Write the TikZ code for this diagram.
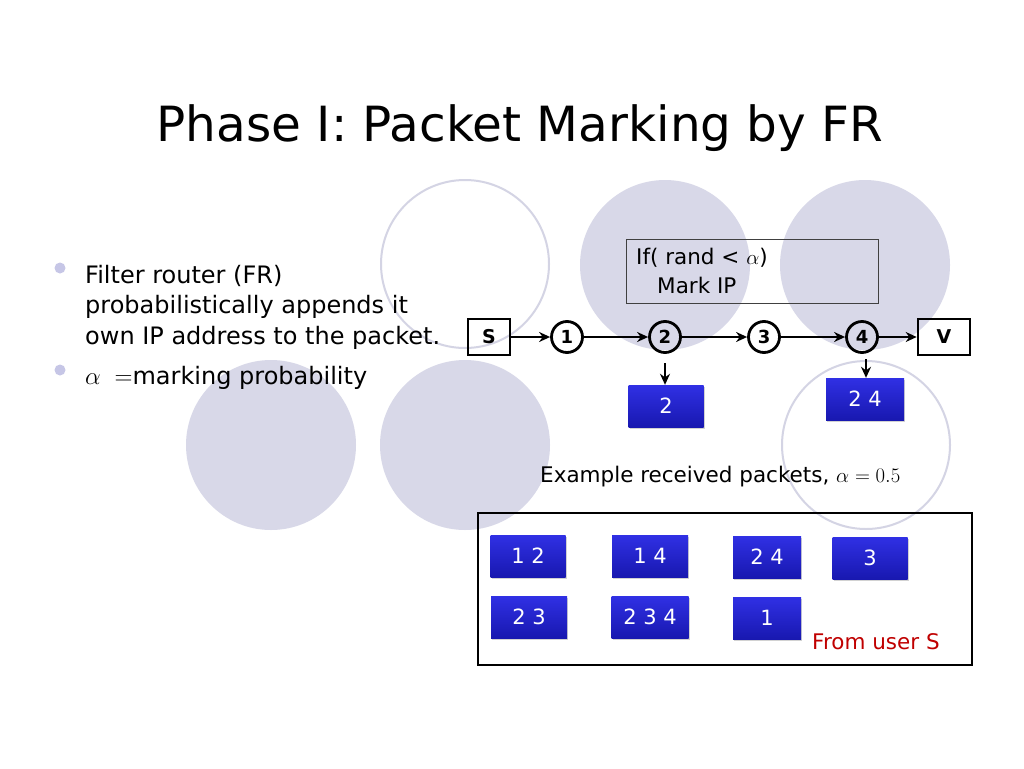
\documentclass[tikz,border=0pt]{standalone}
\usepackage{fontspec}
\setmainfont{DejaVu Sans}
\usetikzlibrary{arrows.meta,shadows}
\definecolor{bgfill}{HTML}{D8D8E8}
\definecolor{bgline}{HTML}{D4D4E4}
\definecolor{bullet}{HTML}{C6C6E6}
\definecolor{pkttop}{HTML}{3030E4}
\definecolor{pktbot}{HTML}{1818B0}
\definecolor{fromred}{HTML}{C00000}
\tikzset{
  bgcircle/.style={circle, minimum size=170pt, inner sep=0pt, fill=bgfill},
  bgring/.style={circle, minimum size=168pt, inner sep=0pt, draw=bgline, line width=2pt, fill=white},
  bul/.style={circle, fill=bullet, minimum size=11pt, inner sep=0pt},
  body/.style={font=\fontsize{24}{32}\selectfont, anchor=west, inner sep=0pt},
  endbox/.style={draw=black, line width=2.6pt, minimum width=42pt, minimum height=36pt, inner sep=0pt, font=\fontsize{19}{20}\selectfont\bfseries},
  router/.style={circle, draw=black, line width=2.8pt, minimum size=31pt, inner sep=0pt, font=\fontsize{18}{18}\selectfont\bfseries},
  link/.style={-{Stealth[length=11pt,width=10pt]}, line width=2.6pt},
  pkt/.style={minimum width=75pt, minimum height=42pt, inner sep=0pt, top color=pkttop, bottom color=pktbot, text=white, font=\fontsize{21}{22}\selectfont, drop shadow={shadow xshift=1pt, shadow yshift=-2pt, opacity=0.35}},
  plain/.style={anchor=west, inner sep=0pt, font=\fontsize{21.5}{24}\selectfont},
}
\begin{document}
\begin{tikzpicture}[x=1pt,y=-1pt]
\useasboundingbox[fill=white] (0,0) rectangle (1024,768);
% background decoration
\node[bgring] (r1) at (465,264) {};
\node[bgcircle] (c1) at (665,265) {};
\node[bgcircle] (c2) at (865,265) {};
\node[bgcircle] (c3) at (271,445) {};
\node[bgcircle] (c4) at (465,445) {};
\node[bgring] (r2) at (866,445) {};
% title
\node[font=\fontsize{48.5}{52}\selectfont, inner sep=0pt] (title) at (520,128) {Phase I: Packet Marking by FR};
% bullets
\node[bul] (b1) at (60,268) {};
\node[bul] (b2) at (60,370) {};
\node[body] (t1) at (85,276) {Filter router (FR)};
\node[body] (t2) at (85,307) {probabilistically appends it};
\node[body] (t3) at (85,338) {own IP address to the packet.};
\node[body] (t4) at (85,378) {$\alpha\;=$marking probability};
% condition box
\node[draw=black!75, line width=0.8pt, minimum width=252pt, minimum height=64pt, inner sep=0pt] (cond) at (752,271) {};
\node[plain] (ift) at (636,258) {If( rand < $\alpha$)};
\node[plain] (mark) at (657,285) {Mark IP};
% path
\node[endbox] (S) at (489,337) {S};
\node[router] (n1) at (567,337) {1};
\node[router] (n2) at (665,337) {2};
\node[router] (n3) at (764,337) {3};
\node[router] (n4) at (862,337) {4};
\node[endbox, minimum width=52pt] (V) at (944,337) {V};
\draw[link] (S) -- (n1);
\draw[link] (n1) -- (n2);
\draw[link] (n2) -- (n3);
\draw[link] (n3) -- (n4);
\draw[link] (n4) -- (V);
% marked packets
\node[pkt] (p2) at (666,406) {2};
\node[pkt, minimum width=78pt] (p24) at (865,399) {2 4};
\coordinate (a2) at (665,363);
\coordinate (a4) at (866,359);
\draw[link] (a2) -- (p2.north -| a2);
\draw[link] (a4) -- (p24.north -| a4);
% example
\node[plain] (ex) at (540,477) {Example received packets, $\alpha = 0.5$};
\node[draw=black, line width=2.8pt, minimum width=494pt, minimum height=152pt, inner sep=0pt] (frame) at (725,589) {};
\node[pkt] (e12) at (528,556) {1 2};
\node[pkt, minimum width=76pt] (e14) at (650,556) {1 4};
\node[pkt, minimum width=68pt] (e24) at (767,557) {2 4};
\node[pkt] (e3) at (870,558) {3};
\node[pkt, minimum width=76pt] (e23) at (529,617) {2 3};
\node[pkt, minimum width=77pt] (e234) at (650,617) {2 3 4};
\node[pkt, minimum width=68pt] (e1) at (767,618) {1};
\node[plain, text=fromred] (from) at (812,642) {From user S};
\end{tikzpicture}
\end{document}
